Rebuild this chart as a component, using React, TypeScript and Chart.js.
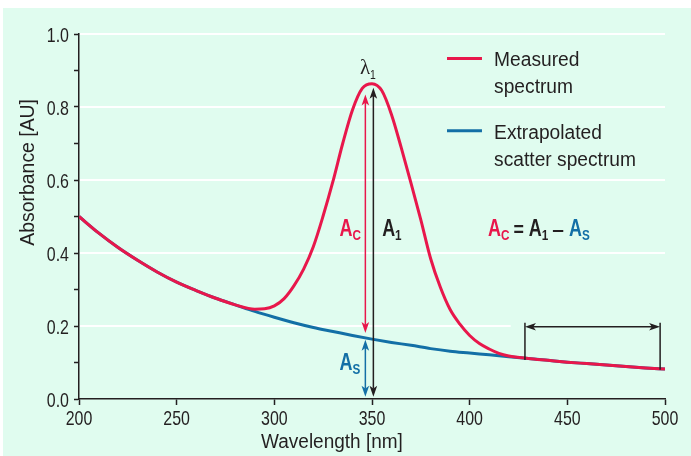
import React, { useEffect, useRef } from "react";
import { Chart, registerables } from "chart.js";
Chart.register(...registerables);

// ---- data ----
const measuredNm = [200, 210, 220, 230, 240, 250, 260, 270, 280, 290, 295, 300, 305, 310, 315, 320, 325, 330, 335, 340, 345, 350, 355, 360, 365, 370, 375, 380, 385, 390, 395, 400, 405, 410, 415, 420, 430, 440, 450, 460, 470, 480, 490, 500];
const measuredAbs = [0.5, 0.455, 0.415, 0.38, 0.348, 0.32, 0.297, 0.276, 0.258, 0.246, 0.247, 0.255, 0.275, 0.31, 0.356, 0.418, 0.502, 0.596, 0.7, 0.792, 0.851, 0.864, 0.845, 0.779, 0.688, 0.591, 0.491, 0.385, 0.306, 0.245, 0.205, 0.174, 0.152, 0.137, 0.125, 0.118, 0.111, 0.106, 0.101, 0.097, 0.093, 0.089, 0.085, 0.082];
const scatterNm = [200, 210, 220, 230, 240, 250, 260, 270, 280, 290, 300, 310, 320, 330, 340, 350, 360, 370, 380, 390, 400, 410, 420, 430, 440, 450, 460, 470, 480, 490, 500];
const scatterAbs = [0.5, 0.455, 0.415, 0.38, 0.348, 0.32, 0.297, 0.276, 0.258, 0.24, 0.224, 0.209, 0.196, 0.185, 0.174, 0.164, 0.155, 0.147, 0.138, 0.131, 0.126, 0.121, 0.116, 0.111, 0.106, 0.101, 0.097, 0.093, 0.089, 0.085, 0.082];
const xTickValues = [200, 250, 300, 350, 400, 450, 500];
const xTickLabels = ["200", "250", "300", "350", "400", "450", "500"];
const yTickValues = [0, 0.1, 0.2, 0.3, 0.4, 0.5, 0.6, 0.7, 0.8, 0.9, 1.0];
const yTickLabels = ["0.0", "", "0.2", "", "0.4", "", "0.6", "", "0.8", "", "1.0"];
const gridValues = [0.2, 0.4, 0.6, 0.8, 1.0];
const seriesNames = ["Measured spectrum", "Extrapolated scatter spectrum"];
const legendLines = [["Measured", "spectrum"], ["Extrapolated", "scatter spectrum"]];
const xTitle = "Wavelength [nm]";
const yTitle = "Absorbance [AU]";

// ---- styles ----
const RED = "#e8174b";
const BLUE = "#136fa6";
const INK = "#231f20";
const MINT = "#e0fcef";
const SANS = "'Liberation Sans', Arial, sans-serif";
const SERIF = "'Liberation Serif', 'Times New Roman', serif";

type TOpts = { size: number; bold?: boolean; color: string; align?: "left" | "center" | "right"; sx?: number; family?: string };
function txt(ctx: CanvasRenderingContext2D, s: string, x: number, y: number, o: TOpts) {
  ctx.save();
  ctx.font = `${o.bold ? "bold " : ""}${o.size}px ${o.family || SANS}`;
  const sx = o.sx ?? 1;
  const w = ctx.measureText(s).width * sx;
  const ox = o.align === "center" ? -w / 2 : o.align === "right" ? -w : 0;
  ctx.translate(x + ox, y);
  ctx.scale(sx, 1);
  ctx.fillStyle = o.color;
  ctx.textAlign = "left";
  ctx.textBaseline = "alphabetic";
  ctx.fillText(s, 0, 0);
  ctx.restore();
  return w;
}

function head(ctx: CanvasRenderingContext2D, tx: number, ty: number, dx: number, dy: number) {
  const hl = 11, hw = 3.8;
  const px = -dy, py = dx;
  ctx.beginPath();
  ctx.moveTo(tx, ty);
  ctx.lineTo(tx - dx * hl + px * hw, ty - dy * hl + py * hw);
  ctx.lineTo(tx - dx * hl * 0.75, ty - dy * hl * 0.75);
  ctx.lineTo(tx - dx * hl - px * hw, ty - dy * hl - py * hw);
  ctx.closePath();
  ctx.fill();
}

function arrow(ctx: CanvasRenderingContext2D, x1: number, y1: number, x2: number, y2: number, color: string) {
  const len = Math.hypot(x2 - x1, y2 - y1);
  const dx = (x2 - x1) / len, dy = (y2 - y1) / len;
  ctx.strokeStyle = color;
  ctx.fillStyle = color;
  ctx.lineWidth = 1.5;
  ctx.beginPath();
  ctx.moveTo(x1 + dx * 8, y1 + dy * 8);
  ctx.lineTo(x2 - dx * 8, y2 - dy * 8);
  ctx.stroke();
  head(ctx, x1, y1, -dx, -dy);
  head(ctx, x2, y2, dx, dy);
}

// bold "A" with subscript
function asub(ctx: CanvasRenderingContext2D, x: number, base: number, s: string, color: string) {
  const w = txt(ctx, "A", x, base, { size: 23, bold: true, color, sx: 0.78 });
  const w2 = txt(ctx, s, x + w, base + 4, { size: 15, bold: true, color, sx: 0.78 });
  return x + w + w2;
}

const annotations = {
  id: "annotations",
  beforeDatasetsDraw(chart: any) {
    const { ctx, chartArea, scales } = chart;
    const x = scales.x, y = scales.y;
    ctx.save();
    ctx.strokeStyle = "#ffffff";
    ctx.lineWidth = 2;
    for (const v of gridValues) {
      const py = y.getPixelForValue(v);
      const xEnd = v === 0.2 ? x.getPixelForValue(421) : chartArea.right;
      ctx.beginPath();
      ctx.moveTo(chartArea.left + 1, py);
      ctx.lineTo(xEnd, py);
      ctx.stroke();
    }
    ctx.restore();
  },
  afterDatasetsDraw(chart: any) {
    const { ctx, scales, chartArea } = chart;
    const X = (v: number) => scales.x.getPixelForValue(v);
    const Y = (v: number) => scales.y.getPixelForValue(v);
    ctx.save();
    // tick labels
    xTickValues.forEach((v, i) => {
      txt(ctx, xTickLabels[i], X(v), chartArea.bottom + 26, { size: 21, color: INK, align: "center", sx: 0.76 });
    });
    yTickValues.forEach((v, i) => {
      if (yTickLabels[i]) txt(ctx, yTickLabels[i], chartArea.left - 10, Y(v) + 7.5, { size: 21, color: INK, align: "right", sx: 0.76 });
    });
    // axis titles
    txt(ctx, xTitle, X(329.5), chartArea.bottom + 49, { size: 20, color: INK, align: "center", sx: 0.95 });
    ctx.save();
    ctx.translate(34, Y(0.621));
    ctx.rotate(-Math.PI / 2);
    txt(ctx, yTitle, 0, 0, { size: 20, color: INK, align: "center", sx: 0.97 });
    ctx.restore();
    // arrows
    arrow(ctx, X(350.7), Y(0.853), X(350.7), Y(0.006), INK);
    arrow(ctx, X(346.6), Y(0.834), X(346.6), Y(0.181), RED);
    arrow(ctx, X(346.6), Y(0.162), X(346.6), Y(0.006), BLUE);
    // bracket
    ctx.strokeStyle = INK;
    ctx.lineWidth = 1.5;
    ctx.beginPath();
    ctx.moveTo(X(428.3), Y(0.209));
    ctx.lineTo(X(428.3), Y(0.107));
    ctx.moveTo(X(497.5), Y(0.209));
    ctx.lineTo(X(497.5), Y(0.08));
    ctx.stroke();
    arrow(ctx, X(428.3), Y(0.198), X(497.5), Y(0.198), INK);
    // A labels
    asub(ctx, X(333.4), Y(0.447), "C", RED);
    asub(ctx, X(355.2), Y(0.447), "1", INK);
    asub(ctx, X(333.4), Y(0.08), "S", BLUE);
    // lambda
    const lw = txt(ctx, "λ", X(343.8), Y(0.89), { size: 21, color: INK, family: SERIF });
    txt(ctx, "1", X(343.8) + lw, Y(0.89) + 5, { size: 13, color: INK, sx: 0.8 });
    // formula
    const fb = Y(0.447);
    let fx = asub(ctx, X(409.4), fb, "C", RED);
    fx += 4;
    fx += txt(ctx, "=", fx, fb, { size: 21, bold: true, color: INK, sx: 0.85 });
    fx += 5;
    fx = asub(ctx, fx, fb, "1", INK);
    fx += 4;
    fx += txt(ctx, "–", fx, fb, { size: 21, bold: true, color: INK, sx: 1 });
    fx += 5;
    asub(ctx, fx, fb, "S", BLUE);
    // legend
    const legendY = [0.933, 0.735];
    const legendColors = [RED, BLUE];
    legendY.forEach((ly, i) => {
      ctx.strokeStyle = legendColors[i];
      ctx.lineWidth = 3;
      ctx.beginPath();
      ctx.moveTo(X(388.4), Y(ly));
      ctx.lineTo(X(406.3), Y(ly));
      ctx.stroke();
      txt(ctx, legendLines[i][0], X(412.5), Y(ly) + 8, { size: 20, color: INK, sx: 0.96 });
      txt(ctx, legendLines[i][1], X(412.5), Y(ly) + 35, { size: 20, color: INK, sx: 0.96 });
    });
    ctx.restore();
  },
};

export default function App() {
  const ref = useRef<HTMLCanvasElement>(null);
  useEffect(() => {
    if (!ref.current) return;
    const chart = new Chart(ref.current, {
      type: "line",
      data: {
        datasets: [
          {
            label: seriesNames[0],
            data: measuredNm.map((v, i) => ({ x: v, y: measuredAbs[i] })),
            borderColor: RED,
            borderWidth: 3,
            pointRadius: 0,
            cubicInterpolationMode: "monotone",
          },
          {
            label: seriesNames[1],
            data: scatterNm.map((v, i) => ({ x: v, y: scatterAbs[i] })),
            borderColor: BLUE,
            borderWidth: 3,
            pointRadius: 0,
            cubicInterpolationMode: "monotone",
          },
        ],
      },
      options: {
        responsive: false,
        animation: false,
        devicePixelRatio: 1,
        layout: { padding: { top: 34, right: 26, left: 0, bottom: 0 } },
        plugins: { legend: { display: false }, tooltip: { enabled: false } },
        scales: {
          x: {
            type: "linear",
            min: 200,
            max: 500,
            afterFit: (s: any) => { s.height = 57; },
            afterBuildTicks: (s: any) => { s.ticks = xTickValues.map((v) => ({ value: v })); },
            grid: { color: "transparent", tickLength: 6, tickColor: INK, tickWidth: 1.5 },
            border: { color: INK, width: 1.5 },
            ticks: { color: "transparent", font: { size: 19 }, padding: 2, maxRotation: 0, autoSkip: false },
          },
          y: {
            type: "linear",
            min: 0,
            max: 1,
            afterFit: (s: any) => { s.width = 79; },
            afterBuildTicks: (s: any) => { s.ticks = yTickValues.map((v) => ({ value: v })); },
            grid: { color: "transparent", tickLength: 5, tickColor: INK, tickWidth: 1.5 },
            border: { color: INK, width: 1.5 },
            ticks: { color: "transparent", font: { size: 19 }, padding: 5, autoSkip: false, callback: (_v: any, i: number) => yTickLabels[i] },
          },
        },
      },
      plugins: [annotations],
    } as any);
    return () => chart.destroy();
  }, []);
  return (
    <div style={{ position: "absolute", left: 0, top: 0, width: 691, height: 456, background: "#ffffff", overflow: "hidden" }}>
      <div style={{ position: "absolute", left: 3, top: 8, width: 688, height: 448, background: MINT }} />
      <canvas ref={ref} width={691} height={456} style={{ position: "absolute", left: 0, top: 0 }} />
    </div>
  );
}
